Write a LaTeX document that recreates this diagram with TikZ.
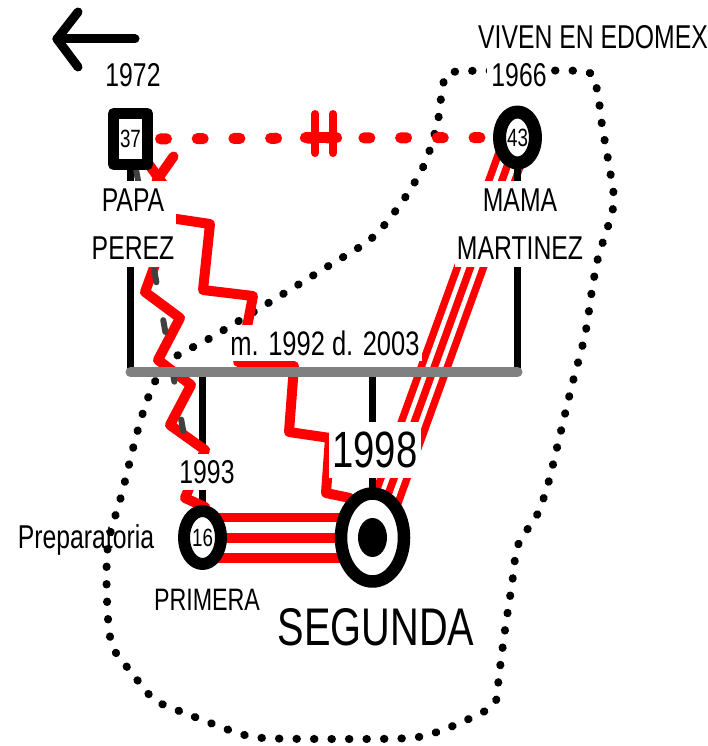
\documentclass[tikz,border=0pt]{standalone}
\usepackage{fontspec}
\setmainfont{Liberation Sans}[FakeStretch=0.75]
\usepackage{tikz}
\usetikzlibrary{shapes.geometric, backgrounds, positioning}

\tikzset{
  hombre/.style={draw, rectangle, line width=11pt, fill=white, minimum width=34pt, minimum height=51pt, inner sep=0pt, font=\fontsize{25}{30}\selectfont},
  mujer/.style={draw, ellipse, line width=13pt, fill=white, minimum width=36pt, minimum height=51pt, inner sep=0pt, font=\fontsize{25}{30}\selectfont},
  etiqueta/.style={fill=white, inner xsep=2pt, inner ysep=6pt, align=center, font=\fontsize{33}{48}\selectfont},
  texto/.style={inner sep=0pt, font=\fontsize{33}{48}\selectfont},
  linea/.style={black, line width=7pt, line cap=round},
  matrimonio/.style={gray, line width=10pt, line cap=round},
  hostil/.style={red, line width=10pt, line cap=round, line join=round},
  distante/.style={black!75, line width=6pt, line cap=round, dash pattern=on 12pt off 38.5pt, dash phase=17.9pt},
  rojopunteado/.style={red, line width=11pt, line cap=round, dash pattern=on 6pt off 30.7pt},
  divorcio/.style={red, line width=8pt, line cap=round},
  limite/.style={black, line width=8pt, line cap=round, dash pattern=on 0.5pt off 17pt},
  flecha/.style={black, line width=9pt, line cap=round, line join=round}
}

\begin{document}
\begin{tikzpicture}[x=1pt, y=-1pt, line cap=round, line join=round]
  \useasboundingbox (0,0) rectangle (707,746);

  % Padres
  \node[hombre] (papa) at (130.5,139) {37};
  \node[mujer] (mama) at (517.5,137.5) {43};

  % Hijas
  \node[mujer, line width=12pt, minimum width=37pt, minimum height=53pt] (primera) at (202.5,537.5) {16};
  \node[mujer, line width=12.5pt, minimum width=63pt, minimum height=88pt] (segunda) at (372.5,537.5) {};
  \fill (segunda.center) ellipse [x radius=14.5pt, y radius=19.5pt];

  % Etiquetas
  \node[etiqueta] (anopapa) at (133,75) {1972};
  \node[etiqueta, inner xsep=4pt] (anomama) at (519,75) {1966};
  \node[etiqueta, inner ysep=8pt] (nompapa) at (133,224) {PAPA\\PEREZ};
  \node[etiqueta, inner ysep=8pt] (nommama) at (520,224) {MAMA\\MARTINEZ};
  \node[etiqueta, font=\fontsize{34}{40}\selectfont] (boda) at (325,343) {m. 1992 d. 2003};
  \node[etiqueta] (anoprimera) at (207,472) {1993};
  \node[etiqueta, inner xsep=3pt, inner ysep=10pt, font=\fontsize{51}{60}\selectfont] (anosegunda) at (375,450) {1998};
  \node[texto, font=\fontsize{31}{40}\selectfont] (nomprimera) at (207,600) {PRIMERA};
  \node[texto, font=\fontsize{53}{60}\selectfont] (nomsegunda) at (376,627) {SEGUNDA};
  \node[texto] (escuela) at (86,540) {Preparatoria};
  \node[texto] (lugar) at (593,37.5) {VIVEN EN EDOMEX};

  \begin{pgfonlayer}{background}
    % Limite: viven en Edomex
    \draw[limite] plot[smooth cycle] coordinates {(453,72) (520,71) (587,72) (597,90) (602,125) (609,165) (614,200) (609,223) (598,258) (592,290) (585,335) (572,385) (560,435) (548,484) (537,515) (518,545) (512,584) (505,630) (499,675) (495,703) (475,716) (440,731) (410,738) (340,739) (263,738) (235,732) (190,715) (155,700) (132,673) (112,645) (107,600) (108,545) (122,493) (137,433) (150,393) (168,362) (212,337) (270,302) (330,265) (372,238) (402,202) (425,163) (438,120) (443,85)};

    % Relaciones fusionadas
    \draw[red, line width=50pt] (primera.center) -- (segunda.center);
    \draw[white, line width=31pt] (primera.center) -- (segunda.center);
    \draw[red, line width=10pt] (primera.center) -- (segunda.center);
    \draw[red, line width=32pt] (mama.center) -- (segunda.center);
    \draw[white, line width=17pt] (mama.center) -- (segunda.center);
    \draw[red, line width=7.5pt] (mama.center) -- (segunda.center);

    % Lineas de parentesco
    \coordinate (famline) at (0,372);
    \draw[linea] (papa.center) -- (papa |- famline);
    \draw[linea] (mama.center) -- (mama |- famline);
    \draw[linea] (primera |- famline) -- (primera.center);
    \draw[linea] (segunda |- famline) -- (segunda.center);

    % Relaciones hostiles
    \draw[hostil] ([shift={(20.5,-13.5)}]papa.south east) -- (157,180) -- (152,205) -- (170,218) -- (210,224) -- (203,290) -- (253,296) -- (248,322) -- (238,362) -- (294,366) -- (289,432) -- (330,438) -- (326,493) -- (350,498) -- (segunda.center);
    \draw[hostil] (papa.center) -- (163,184) -- (156,262) -- (145,292) -- (180,318) -- (158,360) -- (191,385) -- (170,425) -- (205,450) -- (185,498) -- (205,507) -- (primera.center);

    % Relacion distante
    \draw[distante] (papa.center) -- (primera.center);

    % Matrimonio
    \draw[matrimonio] (papa |- famline) -- (mama |- famline);

    % Separacion
    \coordinate (corte) at (324,138);
    \draw[rojopunteado, dash phase=6.7pt] (papa.center) -- (corte);
    \draw[rojopunteado, dash phase=35.9pt] (mama.center) -- (corte);
    \draw[red, line width=11pt, line cap=round] (corte) +(-18.5,0) -- +(12.5,0);
    \draw[divorcio] (corte) +(-9,-24) -- +(-9,15) (corte) +(9,-24) -- +(9,15);
  \end{pgfonlayer}

  % Flecha
  \draw[flecha] (135,39) -- (57,39);
  \draw[flecha] (78,12) -- (57,39) -- (78,67);
\end{tikzpicture}
\end{document}
